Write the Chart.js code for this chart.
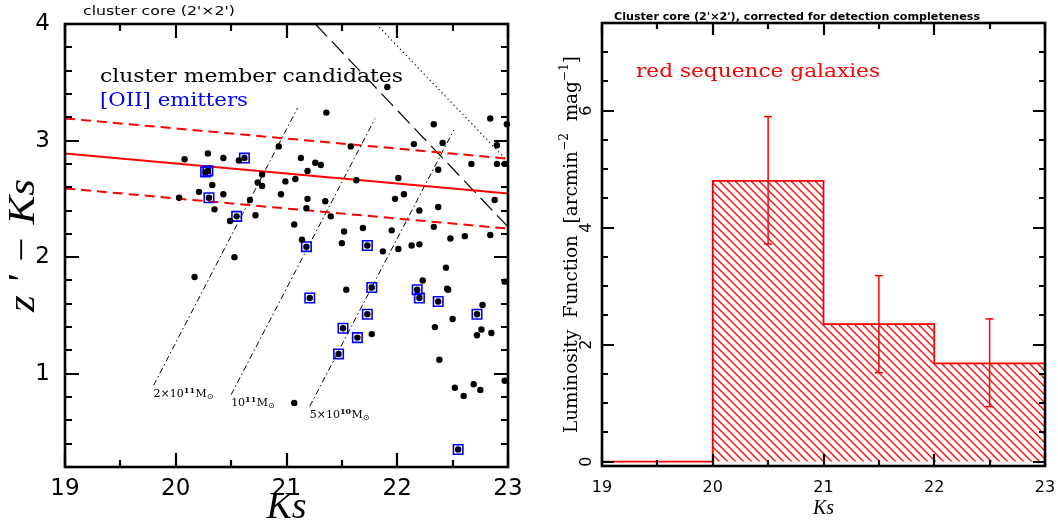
<!DOCTYPE html>
<html lang="en">
<head>
<meta charset="UTF-8">
<title>Cluster core: colour-magnitude diagram and red-sequence luminosity function</title>
<script src="https://cdn.jsdelivr.net/npm/chart.js"></script>
<style>
    html, body { margin: 0; padding: 0; background: #fff; }
    #wrap { position: relative; width: 1058px; height: 527px; overflow: hidden; }
    #cmdChart { position: absolute; left: 0; top: 0; }
    #lfChart { position: absolute; left: 530px; top: 0; }
</style>
</head>
<body>
<div id="wrap">
    <canvas id="cmdChart" width="530" height="527"></canvas>
    <canvas id="lfChart" width="528" height="527"></canvas>
</div>
<script>
// ---- left panel: z' - Ks against Ks ----
// cluster member candidates (black dots)
const memberKs = [20.08, 20.29, 20.43, 20.57, 20.03, 20.21, 20.33, 20.35, 20.43, 20.49,
    20.67, 20.72, 20.74, 20.78, 20.78, 20.93, 20.95, 20.99, 21.08, 21.13,
    21.19, 21.26, 21.31, 21.36, 21.19, 21.18, 21.35, 21.40, 21.07, 21.14,
    21.52, 21.50, 21.58, 21.63, 21.69, 21.87, 21.91, 21.95, 21.98, 22.01,
    22.06, 22.01, 22.15, 22.13, 22.20, 22.20, 22.33, 22.41, 22.37, 22.37,
    22.33, 22.48, 22.44, 22.61, 22.67, 22.84, 22.90, 22.90, 22.97, 22.99,
    22.88, 22.84, 20.53, 20.17, 21.54, 21.77, 21.07, 22.23, 22.45, 22.46,
    22.50, 22.34, 22.38, 22.77, 22.72, 22.76, 22.85, 22.97, 22.97, 22.52,
    22.60, 22.69, 22.75];
const memberColor = [2.84, 2.89, 2.85, 2.83, 2.51, 2.56, 2.62, 2.41, 2.54, 2.31,
    2.49, 2.36, 2.64, 2.71, 2.61, 2.95, 2.54, 2.65, 2.67, 2.85,
    2.74, 2.81, 2.79, 3.24, 2.50, 2.42, 2.48, 2.35, 2.28, 2.15,
    2.22, 2.12, 2.95, 2.66, 2.25, 2.05, 3.46, 2.23, 2.50, 2.68,
    2.54, 2.07, 2.97, 2.10, 2.40, 2.11, 3.14, 2.98, 2.75, 2.43,
    2.26, 2.16, 1.91, 2.18, 2.80, 3.19, 2.96, 2.80, 2.80, 3.14,
    2.49, 2.19, 2.00, 1.83, 1.72, 1.34, 0.75, 1.80, 1.73, 1.72,
    1.47, 1.40, 1.12, 1.59, 1.33, 1.38, 1.35, 1.79, 0.94, 0.88,
    0.81, 0.91, 0.86];
// [OII] emitters (blue squares, each with a dot inside)
const emitterKs = [20.62, 20.27, 20.29, 20.30, 20.55, 21.18, 21.73, 21.21, 21.77, 21.73,
    21.51, 21.64, 21.47, 22.18, 22.20, 22.37, 22.72, 22.55];
const emitterColor = [2.85, 2.73, 2.74, 2.51, 2.35, 2.09, 2.10, 1.65, 1.74, 1.51,
    1.39, 1.31, 1.17, 1.72, 1.65, 1.62, 1.51, 0.35];

// red sequence fit and its +-0.3 band
const rsKs = [19, 23];
const rsColor = [2.89, 2.545];
const rsUpper = [3.19, 2.845];
const rsLower = [2.59, 2.245];

// detection limits
const limitDashKs = [21.26, 23];
const limitDashColor = [4.0, 2.26];
const limitDotKs = [21.81, 23];
const limitDotColor = [4.0, 2.82];

// stellar mass tracks
const massPrefix = ['2×10', '10', '5×10'];
const massExp = ['11', '11', '10'];
const massKsStart = [19.80, 20.50, 21.21];
const massColorStart = [0.90, 0.82, 0.72];
const massKsEnd = [21.10, 21.80, 22.51];
const massColorEnd = [3.28, 3.19, 3.09];

// axis tick steps
const cmdXTicks = { minor: 0.5, major: 1 };
const cmdYTicks = { minor: 0.2, major: 1 };

// ---- right panel: luminosity function ----
const binLeft = [19, 20, 21, 22];
const binWidth = 1;
const lfValues = [0.0, 4.8, 2.35, 1.68];
const errKs = [20.5, 21.5, 22.5];
const errLow = [3.72, 1.52, 0.94];
const errHigh = [5.9, 3.18, 2.44];

const lfXTicks = { minor: 0.5, major: 1 };
const lfYTicks = { minor: 0.5, major: 2 };

const RED = 'rgb(255,0,0)';
const BLUE = 'rgb(0,0,255)';

function isMult(v, step) {
    const r = v / step;
    return Math.abs(r - Math.round(r)) < 1e-6;
}

function pts(xs, ys) {
    return xs.map((x, i) => ({ x: x, y: ys[i] }));
}

// multiples of step that fall inside the scale range
function tickValues(scale, step) {
    const out = [];
    const k0 = Math.ceil(scale.min / step - 1e-6);
    const k1 = Math.floor(scale.max / step + 1e-6);
    for (let k = k0; k <= k1; k++) out.push(k * step);
    return out;
}

// draw text squeezed/stretched to a given width
function fitText(ctx, text, x, y, width, align) {
    const w = ctx.measureText(text).width;
    ctx.save();
    ctx.translate(x, y);
    ctx.scale(width / w, 1);
    ctx.textAlign = align || 'left';
    ctx.fillText(text, 0, 0);
    ctx.restore();
}

// frame plus inward ticks on all four sides
function drawFrame(chart, xt, yt, majorLen, minorLen) {
    const ctx = chart.ctx;
    const a = chart.chartArea;
    const xs = chart.scales.x;
    const ys = chart.scales.y;
    const L = a.left, R = a.right, T = a.top, B = a.bottom;
    ctx.save();
    ctx.setLineDash([]);
    ctx.strokeStyle = '#000';
    ctx.lineCap = 'butt';
    ctx.lineWidth = 2.2;
    ctx.beginPath();
    tickValues(xs, xt.minor).forEach(v => {
        const len = isMult(v, xt.major) ? majorLen : minorLen;
        const p = Math.round(xs.getPixelForValue(v));
        ctx.moveTo(p, B); ctx.lineTo(p, B - len);
        ctx.moveTo(p, T); ctx.lineTo(p, T + len);
    });
    tickValues(ys, yt.minor).forEach(v => {
        const len = isMult(v, yt.major) ? majorLen : minorLen;
        const p = Math.round(ys.getPixelForValue(v));
        ctx.moveTo(L, p); ctx.lineTo(L + len, p);
        ctx.moveTo(R, p); ctx.lineTo(R - len, p);
    });
    ctx.stroke();
    ctx.lineWidth = 2.6;
    ctx.strokeRect(L, T, R - L, B - T);
    ctx.restore();
}

function fixX(height) {
    return s => { s.height = height; s.paddingLeft = 0; s.paddingRight = 0; };
}
function fixY(width) {
    return s => { s.width = width; s.paddingTop = 0; s.paddingBottom = 0; };
}

// ---------------- left chart ----------------
const cmdDecor = {
    id: 'cmdDecor',
    afterDraw(chart) {
        drawFrame(chart, cmdXTicks, cmdYTicks, 14, 7);

        const { ctx, chartArea: a, scales: { x, y } } = chart;
        ctx.save();
        ctx.textBaseline = 'alphabetic';

        ctx.fillStyle = '#000';
        ctx.font = '13px "DejaVu Sans"';
        fitText(ctx, "cluster core (2'×2')", a.left + 18, 15, 152);

        ctx.font = '18px "DejaVu Serif"';
        fitText(ctx, 'cluster member candidates', a.left + 35, a.top + 58, 303);
        ctx.fillStyle = BLUE;
        fitText(ctx, '[OII] emitters', a.left + 35, a.top + 82, 148);

        // mass track labels
        ctx.fillStyle = '#000';
        massPrefix.forEach((pre, i) => {
            let px = x.getPixelForValue(massKsStart[i]);
            const py = y.getPixelForValue(massColorStart[i]) + 11.5;
            ctx.font = '11px "DejaVu Serif"';
            ctx.fillText(pre, px, py);
            px += ctx.measureText(pre).width;
            ctx.font = 'bold 8px "DejaVu Serif"';
            ctx.fillText(massExp[i], px, py - 4);
            px += ctx.measureText(massExp[i]).width + 0.5;
            ctx.font = '11px "DejaVu Serif"';
            ctx.fillText('M', px, py);
            px += ctx.measureText('M').width;
            ctx.font = '8px "DejaVu Sans"';
            ctx.fillText('⊙', px, py + 2);
        });

        // y axis title
        ctx.font = 'italic 38px "Liberation Serif"';
        ctx.textBaseline = 'middle';
        ctx.save();
        ctx.translate(24, (a.top + a.bottom) / 2);
        ctx.rotate(-Math.PI / 2);
        fitText(ctx, "z ' − Ks", 0, 0, 133, 'center');
        ctx.restore();
        ctx.restore();
    }
};

const lineStyle = (color, width, dash) => ({
    type: 'line', showLine: true, pointRadius: 0, borderColor: color,
    borderWidth: width, borderDash: dash, fill: false
});

new Chart(document.getElementById('cmdChart'), {
    type: 'scatter',
    data: {
        datasets: [
            {
                data: pts(memberKs.concat(emitterKs), memberColor.concat(emitterColor)),
                pointRadius: 3.2, pointBackgroundColor: '#000', pointBorderWidth: 0,
                pointBorderColor: '#000', clip: false
            },
            {
                data: pts(emitterKs, emitterColor),
                pointStyle: 'rect', pointRadius: 6.7, pointBorderWidth: 1.6,
                pointBorderColor: BLUE, pointBackgroundColor: 'rgba(0,0,0,0)', clip: false
            },
            Object.assign({ data: pts(rsKs, rsColor) }, lineStyle(RED, 2, [])),
            Object.assign({ data: pts(rsKs, rsUpper) }, lineStyle(RED, 2, [10, 6])),
            Object.assign({ data: pts(rsKs, rsLower) }, lineStyle(RED, 2, [10, 6])),
            Object.assign({ data: pts(limitDashKs, limitDashColor) }, lineStyle('#000', 1.2, [17, 7])),
            Object.assign({ data: pts(limitDotKs, limitDotColor) }, lineStyle('#000', 1.1, [1.3, 3])),
            ...massKsStart.map((k, i) => Object.assign({
                data: pts([k, massKsEnd[i]], [massColorStart[i], massColorEnd[i]])
            }, lineStyle('#000', 1, [6, 3, 1.5, 3])))
        ]
    },
    options: {
        responsive: false,
        animation: false,
        devicePixelRatio: 1,
        layout: { autoPadding: false, padding: { left: 0, right: 22, top: 24, bottom: 0 } },
        plugins: { legend: { display: false }, tooltip: { enabled: false } },
        scales: {
            x: {
                type: 'linear', min: 19, max: 23,
                grid: { display: false, drawTicks: false },
                border: { display: false },
                ticks: {
                    stepSize: cmdXTicks.minor, autoSkip: false, maxRotation: 0, minRotation: 0,
                    padding: 8, color: '#000', font: { family: 'DejaVu Sans', size: 23 },
                    callback: v => isMult(v, cmdXTicks.major) ? String(Math.round(v)) : ''
                },
                title: {
                    display: true, text: 'Ks', color: '#000',
                    font: { family: 'Liberation Serif', style: 'italic', size: 38, lineHeight: 1 },
                    padding: { top: 0, bottom: 0 }
                },
                afterFit: fixX(60)
            },
            y: {
                type: 'linear', min: 0.2, max: 4,
                grid: { display: false, drawTicks: false },
                border: { display: false },
                ticks: {
                    stepSize: cmdYTicks.minor, autoSkip: false, padding: 15, color: '#000',
                    font: { family: 'DejaVu Sans', size: 23 },
                    callback: v => isMult(v, cmdYTicks.major) ? String(Math.round(v)) : ''
                },
                afterFit: fixY(65)
            }
        }
    },
    plugins: [cmdDecor]
});

// ---------------- right chart ----------------
const lfCanvas = document.getElementById('lfChart');

function hatchPattern(ctx) {
    const s = 8;
    const c = document.createElement('canvas');
    c.width = s; c.height = s;
    const g = c.getContext('2d');
    g.strokeStyle = RED;
    g.lineWidth = 1.3;
    g.beginPath();
    g.moveTo(-1, -1); g.lineTo(s + 1, s + 1);
    g.moveTo(-1, s - 1); g.lineTo(1, s + 1);
    g.moveTo(s - 1, -1); g.lineTo(s + 1, 1);
    g.stroke();
    return ctx.createPattern(c, 'repeat');
}

const histPoints = binLeft.map((b, i) => ({ x: b, y: lfValues[i] }));
histPoints.push({ x: binLeft[binLeft.length - 1] + binWidth, y: lfValues[lfValues.length - 1] });

const lfDecor = {
    id: 'lfDecor',
    afterDraw(chart) {
        drawFrame(chart, lfXTicks, lfYTicks, 12, 6);

        const { ctx, chartArea: a, scales: { y } } = chart;
        ctx.save();
        ctx.textBaseline = 'alphabetic';

        ctx.fillStyle = '#000';
        ctx.font = 'bold 11px "DejaVu Sans"';
        fitText(ctx, "Cluster core (2'×2'), corrected for detection completeness", a.left + 12, 20, 366);

        ctx.fillStyle = RED;
        ctx.font = '19px "DejaVu Serif"';
        fitText(ctx, 'red sequence galaxies', a.left + 34, 77, 244);

        // rotated y tick labels
        ctx.fillStyle = '#000';
        ctx.font = '16px "DejaVu Sans"';
        ctx.textBaseline = 'middle';
        tickValues(y, lfYTicks.major).forEach(v => {
            ctx.save();
            ctx.translate(a.left - 15.5, y.getPixelForValue(v));
            ctx.rotate(-Math.PI / 2);
            ctx.textAlign = 'center';
            ctx.fillText(String(Math.round(v)), 0, 0);
            ctx.restore();
        });

        // rotated y title with superscripts
        const parts = [
            ['Luminosity  Function  [arcmin', 0], ['−2', 1], ['  mag', 0], ['−1', 1], [']', 0]
        ];
        const mainFont = '18px "DejaVu Serif"';
        const supFont = '12px "DejaVu Serif"';
        let total = 0;
        parts.forEach(p => { ctx.font = p[1] ? supFont : mainFont; total += ctx.measureText(p[0]).width; });
        const sc = 377 / total;
        ctx.save();
        ctx.translate(a.left - 30, (a.top + a.bottom) / 2);
        ctx.rotate(-Math.PI / 2);
        ctx.scale(sc, 1);
        let cx = -total / 2;
        ctx.textAlign = 'left';
        parts.forEach(p => {
            ctx.font = p[1] ? supFont : mainFont;
            ctx.fillText(p[0], cx, p[1] ? -7 : 0);
            cx += ctx.measureText(p[0]).width;
        });
        ctx.restore();
        ctx.restore();
    }
};

new Chart(lfCanvas, {
    type: 'scatter',
    data: {
        datasets: [
            {
                type: 'line', data: histPoints, stepped: 'before', showLine: true,
                borderColor: RED, borderWidth: 1.8, pointRadius: 0,
                fill: 'origin', backgroundColor: hatchPattern(lfCanvas.getContext('2d'))
            },
            ...errKs.map((k, i) => ({
                type: 'line', showLine: true,
                data: [{ x: k, y: errLow[i] }, { x: k, y: errHigh[i] }],
                borderColor: RED, borderWidth: 1.5, fill: false,
                pointStyle: 'line', pointRadius: 4, pointBorderWidth: 1.5, pointBorderColor: RED
            }))
        ]
    },
    options: {
        responsive: false,
        animation: false,
        devicePixelRatio: 1,
        layout: { autoPadding: false, padding: { left: 0, right: 13, top: 23, bottom: 0 } },
        plugins: { legend: { display: false }, tooltip: { enabled: false } },
        scales: {
            x: {
                type: 'linear', min: 19, max: 23,
                grid: { display: false, drawTicks: false },
                border: { display: false },
                ticks: {
                    stepSize: lfXTicks.minor, autoSkip: false, maxRotation: 0, minRotation: 0,
                    padding: 12, color: '#000', font: { family: 'DejaVu Sans', size: 16 },
                    callback: v => isMult(v, lfXTicks.major) ? String(Math.round(v)) : ''
                },
                title: {
                    display: true, text: 'Ks', color: '#000',
                    font: { family: 'Liberation Serif', style: 'italic', size: 20, lineHeight: 1 },
                    padding: { top: 0, bottom: 8 }
                },
                afterFit: fixX(61)
            },
            y: {
                type: 'linear', min: -0.075, max: 7.5,
                grid: { display: false, drawTicks: false },
                border: { display: false },
                ticks: { stepSize: lfYTicks.minor, display: false },
                afterFit: fixY(72)
            }
        }
    },
    plugins: [lfDecor]
});
</script>
</body>
</html>
